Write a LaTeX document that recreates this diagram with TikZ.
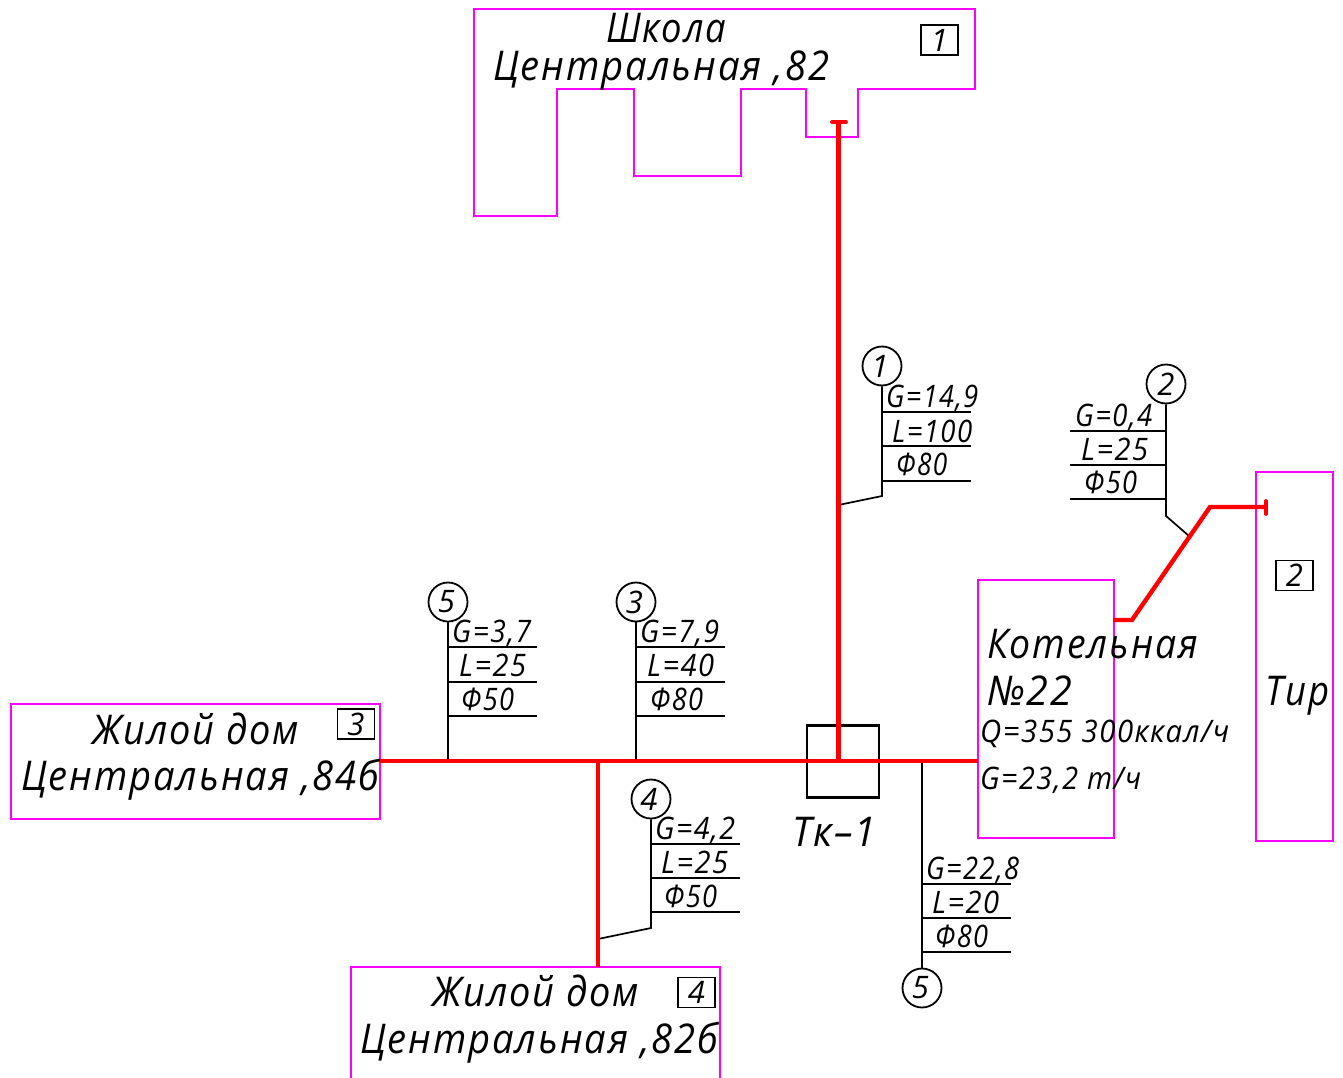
\documentclass[tikz,border=0pt]{standalone}
\usepackage{fontspec}
\setmainfont{Open Sans}[LetterSpace=5]
\usepackage{graphicx}
\definecolor{mag}{RGB}{255,0,255}
\definecolor{pipe}{RGB}{255,0,0}
\newsavebox{\fitbox}
\newcommand{\fitw}[2]{\sbox{\fitbox}{#2}\pgfmathsetmacro{\fitfac}{#1/(\the\wd\fitbox)}\scalebox{\fitfac}[1]{\usebox{\fitbox}}}
\newcommand{\rulesat}[5]{%
  \coordinate (#1a) at (#2,#4); \coordinate (#1b) at (#3,#4);
  \draw[thin line] (#1a) -- (#1b);}
\tikzset{
  thin line/.style={line width=1.7pt,black},
  building/.style={draw=mag,line width=2.4pt,inner sep=0,rectangle},
  pipeline/.style={draw=pipe,line width=4.4pt},
  tagbox/.style={draw=black,line width=1.7pt,minimum width=37pt,minimum height=30pt,inner sep=0,font=\fontsize{31}{31}\selectfont\itshape},
  bubble/.style={draw=black,circle,line width=1.8pt,minimum size=39pt,inner sep=0,font=\fontsize{31}{31}\selectfont\itshape},
  bigtxt/.style={anchor=base west,inner sep=0,font=\fontsize{41}{41}\selectfont\itshape},
  midtxt/.style={anchor=base west,inner sep=0,font=\fontsize{31}{31}\selectfont\itshape},
}
\begin{document}
\begin{tikzpicture}[x=1pt,y=-1pt]
\useasboundingbox (0,0) rectangle (1343,1078);
% buildings
\draw[mag,line width=2.4pt] (474,9) -- (975,9) -- (975,89) -- (858,89) -- (858,137) -- (806,137) -- (806,89) -- (741,89) -- (741,176) -- (634,176) -- (634,89) -- (557,89) -- (557,216) -- (474,216) -- cycle;
\node[building,minimum width=136pt,minimum height=258pt] (boiler) at (1046,709) {};
\node[building,minimum width=77pt,minimum height=369pt] (range) at (1294.5,656.5) {};
\node[building,minimum width=369pt,minimum height=115pt] (house3) at (195.5,761.5) {};
\draw[mag,line width=2.4pt] (351,1080) -- (351,967) -- (720,967) -- (720,1080);
% tags
\node[tagbox] (tag1) at (939.5,40) {1};
\node[tagbox] (tag2) at (1294.5,575.5) {2};
\node[tagbox] (tag3) at (356,724) {3};
\node[tagbox] (tag4) at (696.5,992.5) {4};
% chamber
\node[draw=black,line width=2.6pt,minimum size=72pt,inner sep=0] (tk) at (843,761.5) {};
% bubbles
\node[bubble] (c1) at (882,366) {\hspace{-4pt}1};
\node[bubble] (c2) at (1166,384) {2};
\node[bubble] (c5a) at (448,602) {\hspace{-3pt}5};
\node[bubble] (c3) at (636,602) {\hspace{-3pt}3};
\node[bubble] (c4) at (651,799) {\hspace{-4pt}4};
\node[bubble] (c5b) at (922,988) {\hspace{-3pt}5};
% pipe junctions
\coordinate (jw) at (380,761);
\coordinate (je) at (978,761);
\coordinate (j5a) at (448,761);
\coordinate (j3) at (636,761);
\coordinate (j4) at (598,761);
\coordinate (j4b) at (598,967);
\coordinate (j4l) at (598,939);
\coordinate (jtk) at (838.5,761);
\coordinate (jsch) at (838.5,122);
\coordinate (j1) at (838.5,505);
\coordinate (j5b) at (922,761);
\coordinate (k1) at (1113,620);
\coordinate (k2) at (1132,620);
\coordinate (k3) at (1210,507);
\coordinate (k4) at (1266,507);
\coordinate (j2) at (1189,536);
\coordinate (b1) at (882,496);
\coordinate (b2) at (1166,516);
\coordinate (b4) at (651,928);
% leaders
\draw[thin line] (c1) -- (b1) -- (j1);
\draw[thin line] (c2) -- (b2) -- (j2);
\draw[thin line] (c5a) -- (j5a);
\draw[thin line] (c3) -- (j3);
\draw[thin line] (c4) -- (b4) -- (j4l);
\draw[thin line] (c5b) -- (j5b);
% shelves
\rulesat{a1}{882}{971}{412}{}\rulesat{a2}{882}{971}{446}{}\rulesat{a3}{882}{971}{481}{}
\rulesat{e1}{1070}{1166}{431}{}\rulesat{e2}{1070}{1166}{465}{}\rulesat{e3}{1070}{1166}{499}{}
\rulesat{f1}{448}{537}{647}{}\rulesat{f2}{448}{537}{682}{}\rulesat{f3}{448}{537}{716}{}
\rulesat{g1}{636}{725}{647}{}\rulesat{g2}{636}{725}{682}{}\rulesat{g3}{636}{725}{716}{}
\rulesat{h1}{651}{740}{844}{}\rulesat{h2}{651}{740}{878}{}\rulesat{h3}{651}{740}{912}{}
\rulesat{i1}{922}{1011}{884}{}\rulesat{i2}{922}{1011}{918}{}\rulesat{i3}{922}{1011}{952}{}
% pipes
\draw[pipeline] (jw) -- (je);
\draw[pipeline] (jtk) -- (jsch);
\draw[pipeline] (j4) -- (j4b);
\draw[pipeline,line join=miter] (k1) -- (k2) -- (k3) -- (k4);
\coordinate (capa) at (832,122); \coordinate (capb) at (846,122);
\draw[draw=pipe,line width=3.8pt,line cap=round] (capa) -- (capb);
\coordinate (capc) at (1266,501); \coordinate (capd) at (1266,514);
\draw[draw=pipe,line width=3.8pt,line cap=round] (capc) -- (capd);
% big labels
\node[bigtxt] (t1) at (606,43) {\fitw{120}{Школа}};
\node[bigtxt] (t2) at (493,81) {\fitw{336}{Центральная ,82}};
\node[bigtxt] (t3) at (92,744) {\fitw{207}{Жилой дом}};
\node[bigtxt] (t4) at (21,790) {\fitw{358}{Центральная ,84б}};
\node[bigtxt] (t5) at (432,1006) {\fitw{207}{Жилой дом}};
\node[bigtxt] (t6) at (360,1053) {\fitw{358}{Центральная ,82б}};
\node[bigtxt] (t7) at (987,658) {\fitw{211}{Котельная}};
\node[bigtxt] (t8) at (987,705) {\fitw{85}{№22}};
\node[bigtxt] (t9) at (1265,705) {\fitw{64}{Тир}};
\node[bigtxt] (t10) at (792,846) {\fitw{84}{Тк–1}};
\node[midtxt] (t11) at (980,742) {\fitw{249}{Q=355 300ккал/ч}};
\node[midtxt] (t12) at (980,789) {\fitw{161}{G=23,2 т/ч}};
% pipe data
\node[midtxt] (d1) at (886,407) {\fitw{92}{G=14,9}};
\node[midtxt] (d2) at (892,442) {\fitw{80}{L=100}};
\node[midtxt] (d3) at (896,475) {\fitw{51}{Ф80}};
\node[midtxt] (d4) at (1075,426) {\fitw{77}{G=0,4}};
\node[midtxt] (d5) at (1081,460) {\fitw{67}{L=25}};
\node[midtxt] (d6) at (1084,493) {\fitw{53}{Ф50}};
\node[midtxt] (d7) at (452,642) {\fitw{79}{G=3,7}};
\node[midtxt] (d8) at (459,676) {\fitw{67}{L=25}};
\node[midtxt] (d9) at (461,710) {\fitw{53}{Ф50}};
\node[midtxt] (d10) at (640,642) {\fitw{79}{G=7,9}};
\node[midtxt] (d11) at (647,676) {\fitw{67}{L=40}};
\node[midtxt] (d12) at (650,710) {\fitw{53}{Ф80}};
\node[midtxt] (d13) at (655,839) {\fitw{80}{G=4,2}};
\node[midtxt] (d14) at (661,873) {\fitw{67}{L=25}};
\node[midtxt] (d15) at (664,907) {\fitw{53}{Ф50}};
\node[midtxt] (d16) at (926,879) {\fitw{93}{G=22,8}};
\node[midtxt] (d17) at (932,913) {\fitw{67}{L=20}};
\node[midtxt] (d18) at (935,947) {\fitw{53}{Ф80}};
\end{tikzpicture}
\end{document}
